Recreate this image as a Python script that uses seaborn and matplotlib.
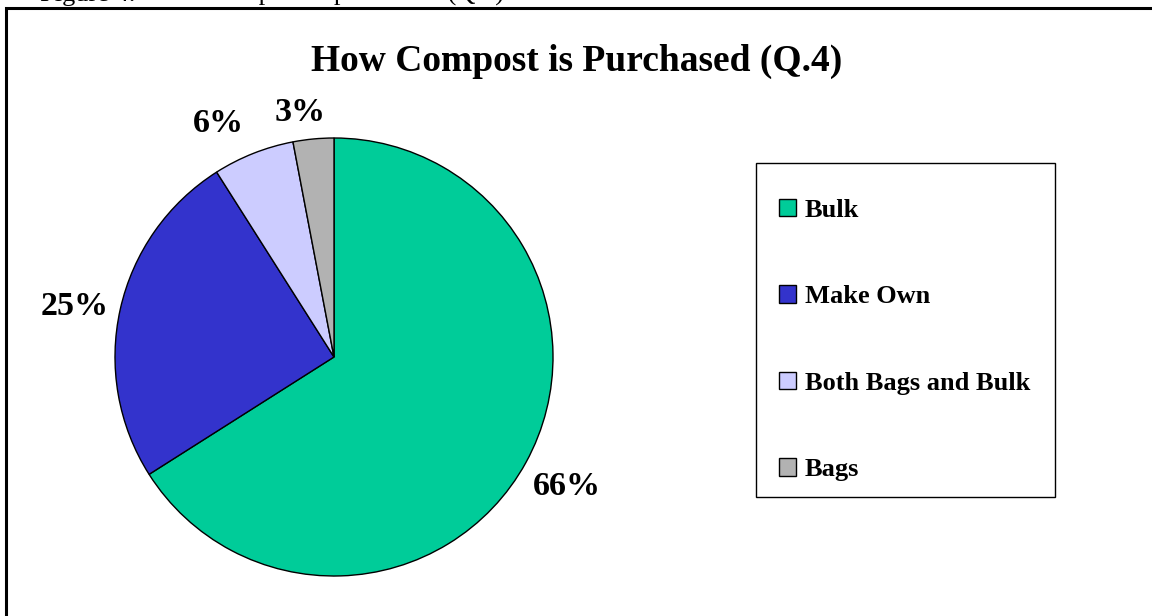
import matplotlib
matplotlib.use("Agg")
import matplotlib.pyplot as plt
import matplotlib.transforms as mtransforms
import seaborn as sns
from matplotlib.patches import Rectangle
import numpy as np

# Survey answers: how compost is obtained
categories = ["Bulk", "Make Own", "Both Bags and Bulk", "Bags"]
shares = [66, 25, 6, 3]
pct_labels = ["66%", "25%", "6%", "3%"]
colors = ["#00CC99", "#3333CC", "#CCCCFF", "#B2B2B2"]
# placement of each percentage label: radius (in pie radii) and angular nudge (deg)
label_radius = [1.21, 1.21, 1.20, 1.14]
label_nudge = [0.4, 0.9, 4.4, 2.5]

sns.set_theme(style="white")
plt.rcParams["font.family"] = ["Liberation Serif", "DejaVu Serif"]
plt.rcParams["text.color"] = "black"

W, H = 1152, 616
fig = plt.figure(figsize=(W / 100, H / 100), dpi=100)
fig.patch.set_facecolor("white")

# page caption running off the top edge
fig.text(40 / W, (H - 1) / H, "Figure 4.", fontsize=19, va="baseline", ha="left")
fig.text(155 / W, (H - 1) / H, "How compost is purchased (Q.4).", fontsize=19,
         va="baseline", ha="left")

# chart area border
fig.add_artist(Rectangle((6 / W, -0.1), 1.2, (H - 8) / H + 0.1,
                         transform=fig.transFigure, fill=False,
                         edgecolor="black", linewidth=2.2))

# pie
cx, cy, r = 334, 357, 219
ax = fig.add_axes([(cx - r) / W, (H - cy - r) / H, 2 * r / W, 2 * r / H])
wedges, _ = ax.pie(shares, colors=colors, startangle=90, counterclock=False,
                   radius=1.0, wedgeprops=dict(edgecolor="black", linewidth=1.0))
ax.set_xlim(-1, 1)
ax.set_ylim(-1, 1)
ax.set_aspect("equal")
ax.axis("off")

# small downward shift so the digits sit visually centred on their anchor
lab_trans = mtransforms.offset_copy(ax.transData, fig=fig, x=0, y=-3, units="dots")
for w, lab, d, nudge in zip(wedges, pct_labels, label_radius, label_nudge):
    mid = np.deg2rad((w.theta1 + w.theta2) / 2 + nudge)
    ax.text(d * np.cos(mid), d * np.sin(mid), lab, ha="center", va="center",
            fontsize=24.5, fontweight="bold", clip_on=False, transform=lab_trans)

fig.text(577 / W, (H - 61) / H, "How Compost is Purchased (Q.4)",
         ha="center", va="center", fontsize=27, fontweight="bold")

# legend box outline
fig.add_artist(Rectangle((756 / W, (H - 497) / H), 299 / W, 334 / H,
                         transform=fig.transFigure, fill=False,
                         edgecolor="black", linewidth=1.0, zorder=5))
leg = ax.legend(wedges, categories, loc="upper left",
                bbox_to_anchor=(743 / W, (H - 497) / H, 299 / W, 334 / H),
                bbox_transform=fig.transFigure, mode="expand",
                prop=dict(size=19, weight="bold"),
                handlelength=0.65, handleheight=0.65, handletextpad=0.35,
                labelspacing=2.405, borderpad=1.35, borderaxespad=0,
                frameon=False)
for t in leg.get_texts():
    t.set_color("black")

fig.savefig("out.png", dpi=100, facecolor="white")
